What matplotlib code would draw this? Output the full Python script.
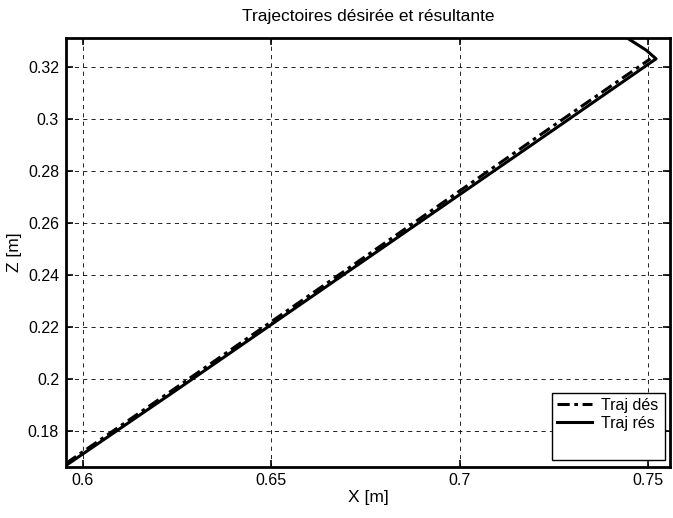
import matplotlib
matplotlib.use("Agg")
import matplotlib.pyplot as plt
from matplotlib.patches import Rectangle

plt.rcParams['font.family'] = ['Liberation Sans', 'DejaVu Sans']

# Data
x_des = [0.5955, 0.625, 0.65, 0.675, 0.70, 0.725, 0.7506]
z_des = [0.1676, 0.1970, 0.2221, 0.2472, 0.2724, 0.2976, 0.3232]
x_res = [0.5955, 0.625, 0.65, 0.675, 0.70, 0.725, 0.7521, 0.7495, 0.7440]
z_res = [0.1668, 0.1960, 0.2210, 0.2460, 0.2710, 0.2960, 0.3232, 0.3265, 0.3316]

xticks = [0.6, 0.65, 0.7, 0.75]
xticklabels = ['0.6', '0.65', '0.7', '0.75']
yticks = [0.18, 0.2, 0.22, 0.24, 0.26, 0.28, 0.3, 0.32]
yticklabels = ['0.18', '0.2', '0.22', '0.24', '0.26', '0.28', '0.3', '0.32']

fig = plt.figure(figsize=(6.73, 5.18), dpi=100)
ax = fig.add_axes([66/673, (518-467)/518, (670-66)/673, (467-38)/518])

ax.plot(x_des, z_des, color='black', linestyle=(0, (4, 1.5, 1.2, 1.5)), linewidth=2.2, label='Traj dés')
ax.plot(x_res, z_res, color='black', linestyle='-', linewidth=2.2, label='Traj rés')

ax.set_xlim(0.5955, 0.7558)
ax.set_ylim(0.1662, 0.3312)
ax.set_xticks(xticks)
ax.set_xticklabels(xticklabels)
ax.set_yticks(yticks)
ax.set_yticklabels(yticklabels)

ax.grid(True, color='black', linestyle=(0, (5, 5)), linewidth=0.6)
ax.tick_params(direction='in', length=5, width=1.2, top=True, right=True,
               labelsize=11.5, pad=5, colors='black')
ax.tick_params(axis='x', pad=4)
for s in ax.spines.values():
    s.set_linewidth(2)
    s.set_color('black')

ax.set_title('Trajectoires désirée et résultante', fontsize=12.5, pad=12)
ax.set_xlabel('X [m]', fontsize=12.5, labelpad=2)
ax.set_ylabel('Z [m]', fontsize=12.5, labelpad=4)

# Matlab-style legend box
box = Rectangle((0.8046, 0.0163), 0.9917 - 0.8046, 0.1725 - 0.0163, transform=ax.transAxes,
                facecolor='white', edgecolor='black', linewidth=1.0, zorder=5)
ax.add_patch(box)
leg = ax.legend(loc='upper left', bbox_to_anchor=(0.8046, 0.1725), frameon=False,
                fontsize=11.5, handlelength=2.2, handletextpad=0.6, labelspacing=0.2,
                borderaxespad=0.0, borderpad=0.3)
leg.set_zorder(6)

fig.savefig('out.png', dpi=100)
